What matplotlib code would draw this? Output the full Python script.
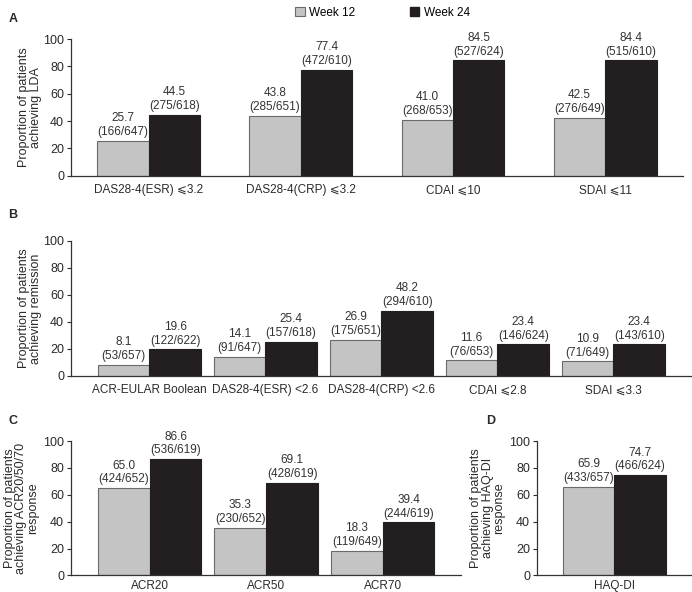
import matplotlib.pyplot as plt
import numpy as np
from matplotlib.patches import Patch

plt.rcParams['font.family'] = ['Liberation Sans', 'DejaVu Sans']
plt.rcParams['font.size'] = 8.5

GREY = '#c4c4c4'
BLACK = '#231f20'
EDGE = '#6a6a6a'
TXT = '#2a2a2a'

# Panel A: low disease activity
cats_a = ['DAS28-4(ESR) \u2a7d3.2', 'DAS28-4(CRP) \u2a7d3.2', 'CDAI \u2a7d10', 'SDAI \u2a7d11']
w12_a = [25.7, 43.8, 41.0, 42.5]
w24_a = [44.5, 77.4, 84.5, 84.4]
n12_a = ['166/647', '285/651', '268/653', '276/649']
n24_a = ['275/618', '472/610', '527/624', '515/610']

# Panel B: remission
cats_b = ['ACR-EULAR Boolean', 'DAS28-4(ESR) <2.6', 'DAS28-4(CRP) <2.6',
          'CDAI \u2a7d2.8', 'SDAI \u2a7d3.3']
w12_b = [8.1, 14.1, 26.9, 11.6, 10.9]
w24_b = [19.6, 25.4, 48.2, 23.4, 23.4]
n12_b = ['53/657', '91/647', '175/651', '76/653', '71/649']
n24_b = ['122/622', '157/618', '294/610', '146/624', '143/610']

# Panel C: ACR response
cats_c = ['ACR20', 'ACR50', 'ACR70']
w12_c = [65.0, 35.3, 18.3]
w24_c = [86.6, 69.1, 39.4]
n12_c = ['424/652', '230/652', '119/649']
n24_c = ['536/619', '428/619', '244/619']

# Panel D: HAQ-DI
cats_d = ['HAQ-DI']
w12_d = [65.9]
w24_d = [74.7]
n12_d = ['433/657']
n24_d = ['466/624']


def panel(ax, cats, w12, w24, n12, n24, ylabel, bw, pad, xpad=6):
    x = np.arange(len(cats))
    ax.bar(x - bw / 2, w12, bw, color=GREY, edgecolor=EDGE, linewidth=0.8)
    ax.bar(x + bw / 2, w24, bw, color=BLACK, edgecolor=BLACK, linewidth=0.8)
    for xi, v, n in zip(x - bw / 2, w12, n12):
        ax.text(xi, v + 2, f'{v:.1f}\n({n})', ha='center', va='bottom',
                color='#333333', linespacing=1.2)
    for xi, v, n in zip(x + bw / 2, w24, n24):
        ax.text(xi, v + 2, f'{v:.1f}\n({n})', ha='center', va='bottom',
                color='#333333', linespacing=1.2)
    ax.set_xlim(-pad, len(cats) - 1 + pad)
    ax.set_ylim(0, 100)
    ax.set_yticks(range(0, 101, 20))
    ax.set_xticks(x)
    ax.set_xticklabels(cats)
    ax.tick_params(axis='x', length=0, pad=xpad, colors=TXT)
    ax.tick_params(axis='y', length=3, width=0.8, pad=2, colors=TXT, labelsize=9)
    for s in ['top', 'right']:
        ax.spines[s].set_visible(False)
    for s in ['left', 'bottom']:
        ax.spines[s].set_linewidth(0.9)
        ax.spines[s].set_color('#333333')
    ax.set_ylabel(ylabel, color=TXT, linespacing=0.95, fontsize=9)


fig = plt.figure(figsize=(6.92, 5.92), dpi=100)

ax_a = fig.add_axes([0.1026, 0.703, 0.884, 0.231])
panel(ax_a, cats_a, w12_a, w24_a, n12_a, n24_a,
      'Proportion of patients\nachieving LDA', 0.338, 0.51)
ax_a.yaxis.set_label_coords(-0.048, 0.5)

ax_b = fig.add_axes([0.1026, 0.365, 0.897, 0.228])
panel(ax_b, cats_b, w12_b, w24_b, n12_b, n24_b,
      'Proportion of patients\nachieving remission', 0.445, 0.675)
ax_b.yaxis.set_label_coords(-0.047, 0.5)

ax_c = fig.add_axes([0.1026, 0.028, 0.564, 0.227])
panel(ax_c, cats_c, w12_c, w24_c, n12_c, n24_c,
      'Proportion of patients\nachieving ACR20/50/70\nresponse', 0.445, 0.675, xpad=3)
ax_c.yaxis.set_label_coords(-0.082, 0.5)

ax_d = fig.add_axes([0.776, 0.028, 0.224, 0.227])
panel(ax_d, cats_d, w12_d, w24_d, n12_d, n24_d,
      'Proportion of patients\nachieving HAQ-DI\nresponse', 0.445, 0.675, xpad=3)
ax_d.yaxis.set_label_coords(-0.205, 0.5)

for lab, (px, py) in zip('ABCD', [(0.012, 0.962), (0.012, 0.632), (0.012, 0.283), (0.703, 0.283)]):
    fig.text(px, py, lab, fontsize=9, fontweight='bold', color=TXT)

handles = [Patch(facecolor=GREY, edgecolor=EDGE, linewidth=0.8, label='Week 12'),
           Patch(facecolor=BLACK, edgecolor=BLACK, label='Week 24')]
fig.legend(handles=handles, loc='upper center', bbox_to_anchor=(0.553, 1.006), ncol=2,
           frameon=False, handlelength=0.8, handleheight=0.8, handletextpad=0.4,
           columnspacing=4.6, fontsize=8.5)

fig.savefig('out.png', dpi=100)
